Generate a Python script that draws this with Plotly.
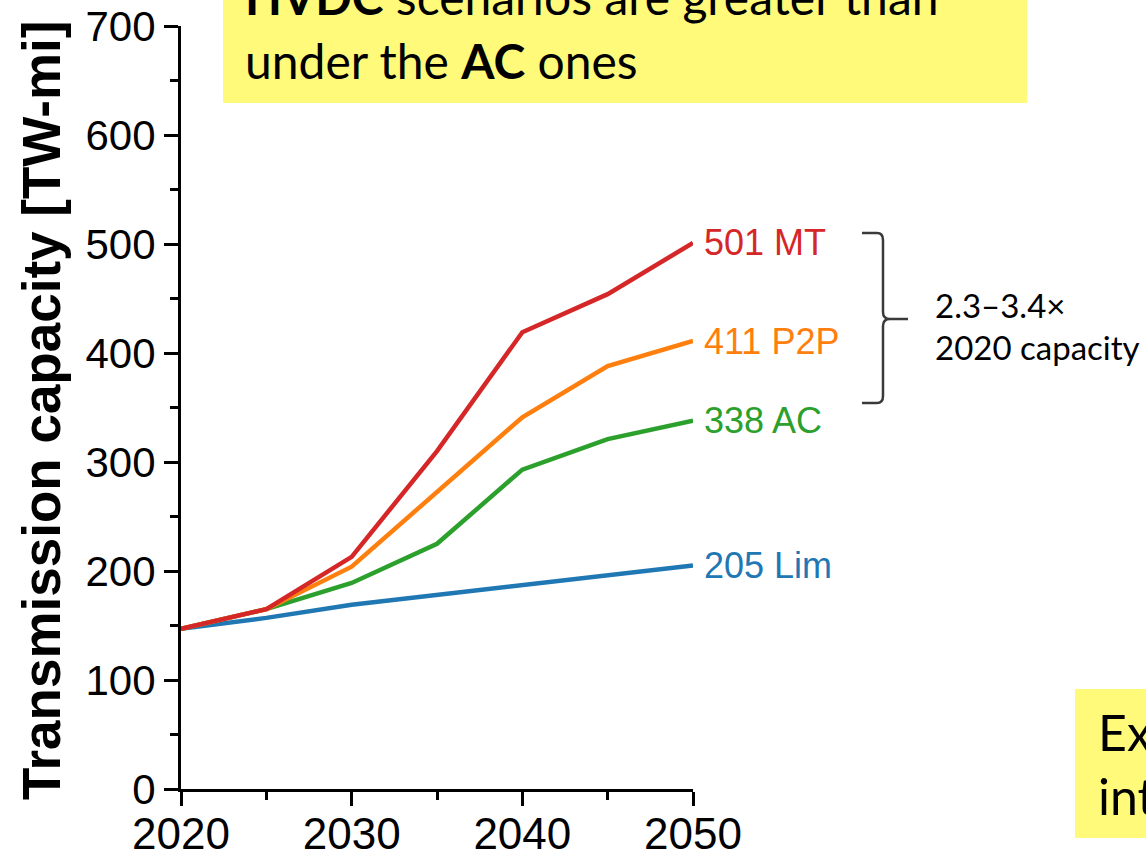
import plotly.graph_objects as go

# ---------------- data ----------------
years = [2020, 2025, 2030, 2035, 2040, 2045, 2050]
lim = [147, 157, 169, 178, 187, 196, 205]
ac = [147, 165, 189, 225, 293, 321, 338]
p2p = [147, 165, 204, 272, 341, 388, 411]
mt = [147, 165, 213, 310, 419, 454, 501]
series_names = ["Lim", "AC", "P2P", "MT"]
series_values = [lim, ac, p2p, mt]
series_colors = ["#1f77b4", "#2ca02c", "#ff7f0e", "#d62728"]
y_ticks = [0, 100, 200, 300, 400, 500, 600, 700]
x_ticks = [2020, 2030, 2040, 2050]

# ---------------- layout geometry ----------------
W, H = 1146, 854
L, R, T, B = 181, 453, 26, 65
PW, PH = W - L - R, H - T - B


def px(x):
    return (x - L) / PW


def py(y):
    return (H - B - y) / PH


fig = go.Figure()
for name, vals, col in zip(series_names, series_values, series_colors):
    fig.add_trace(go.Scatter(x=years, y=vals, mode="lines", name=name,
                             line=dict(color=col, width=4.5), showlegend=False))
    fig.add_annotation(x=years[-1], y=vals[-1], xref="x", yref="y",
                       text=f"{vals[-1]} {name}", showarrow=False,
                       xanchor="left", yanchor="middle", xshift=9,
                       font=dict(family="Liberation Sans, Arial", size=36, color=col))

axis_font = "Liberation Sans, Arial"
fig.update_xaxes(range=[2020, 2050], tickvals=x_ticks, ticktext=[str(v) for v in x_ticks],
                 showline=True, linecolor="black", linewidth=3, automargin=False,
                 ticks="outside", ticklen=14, tickwidth=3, tickcolor="black",
                 ticklabelstandoff=-10,
                 minor=dict(dtick=5, tick0=2020, ticks="outside", ticklen=8, tickwidth=3, tickcolor="black"),
                 showgrid=False, zeroline=False,
                 tickfont=dict(family=axis_font, size=44, color="black"))
fig.update_yaxes(range=[0, 700], tickvals=y_ticks,
                 showline=True, linecolor="black", linewidth=3, automargin=False,
                 ticks="outside", ticklen=14, tickwidth=3, tickcolor="black",
                 minor=dict(dtick=50, tick0=0, ticks="outside", ticklen=8, tickwidth=3, tickcolor="black"),
                 showgrid=False, zeroline=False,
                 tickfont=dict(family=axis_font, size=42, color="black"))

# y-axis title
fig.add_annotation(x=px(41), y=py(411), xref="paper", yref="paper",
                   text="<b>Transmission capacity [TW-mi]</b>", textangle=-90,
                   showarrow=False, xanchor="center", yanchor="middle",
                   font=dict(family=axis_font, size=53, color="black"))

yellow = "#FFFA7A"
# top yellow box
fig.add_shape(type="rect", xref="paper", yref="paper",
              x0=px(223), x1=px(1027), y0=py(103), y1=py(-30),
              fillcolor=yellow, line=dict(width=0), layer="above")
txt_font = "Lato, Open Sans, sans-serif"
fig.add_annotation(x=px(243), y=py(-3), xref="paper", yref="paper",
                   text="<b>HVDC</b> scenarios are greater than", showarrow=False,
                   xanchor="left", yanchor="middle",
                   font=dict(family=txt_font, size=48, color="black"))
fig.add_annotation(x=px(243), y=py(60), xref="paper", yref="paper",
                   text="under the <b>AC</b> ones", showarrow=False,
                   xanchor="left", yanchor="middle",
                   font=dict(family=txt_font, size=48, color="black"))

# bottom-right yellow box
fig.add_shape(type="rect", xref="paper", yref="paper",
              x0=px(1075), x1=px(1200), y0=py(838), y1=py(689),
              fillcolor=yellow, line=dict(width=0), layer="above")
fig.add_annotation(x=px(1096), y=py(732), xref="paper", yref="paper",
                   text="Ex", showarrow=False, xanchor="left", yanchor="middle",
                   font=dict(family=txt_font, size=50, color="black"))
fig.add_annotation(x=px(1096), y=py(796), xref="paper", yref="paper",
                   text="int", showarrow=False, xanchor="left", yanchor="middle",
                   font=dict(family=txt_font, size=50, color="black"))


# bracket
def P(x, y):
    return f"{px(x):.5f},{py(y):.5f}"


path = ("M " + P(862, 233) + " L " + P(877, 233) + " Q " + P(883, 233) + " " + P(883, 240) +
        " L " + P(883, 312) + " Q " + P(883, 319) + " " + P(890, 319) + " L " + P(908, 319) +
        " M " + P(890, 319) + " Q " + P(883, 319) + " " + P(883, 326) +
        " L " + P(883, 396) + " Q " + P(883, 403) + " " + P(877, 403) + " L " + P(862, 403))
fig.add_shape(type="path", xref="paper", yref="paper", path=path,
              line=dict(color="#3a3a3a", width=2.5), layer="above")
fig.add_annotation(x=px(933), y=py(305), xref="paper", yref="paper",
                   text="2.3–3.4×", showarrow=False, xanchor="left", yanchor="middle",
                   font=dict(family=txt_font, size=33, color="black"))
fig.add_annotation(x=px(933), y=py(347), xref="paper", yref="paper",
                   text="2020 capacity", showarrow=False, xanchor="left", yanchor="middle",
                   font=dict(family=txt_font, size=33, color="black"))

fig.update_layout(width=W, height=H, autosize=False,
                  margin=dict(l=L, r=R, t=T, b=B, pad=0),
                  plot_bgcolor="white", paper_bgcolor="white")

fig.write_html("out.html", config={"displayModeBar": False},
               post_script="document.body.style.margin='0';document.body.style.overflow='hidden';")
